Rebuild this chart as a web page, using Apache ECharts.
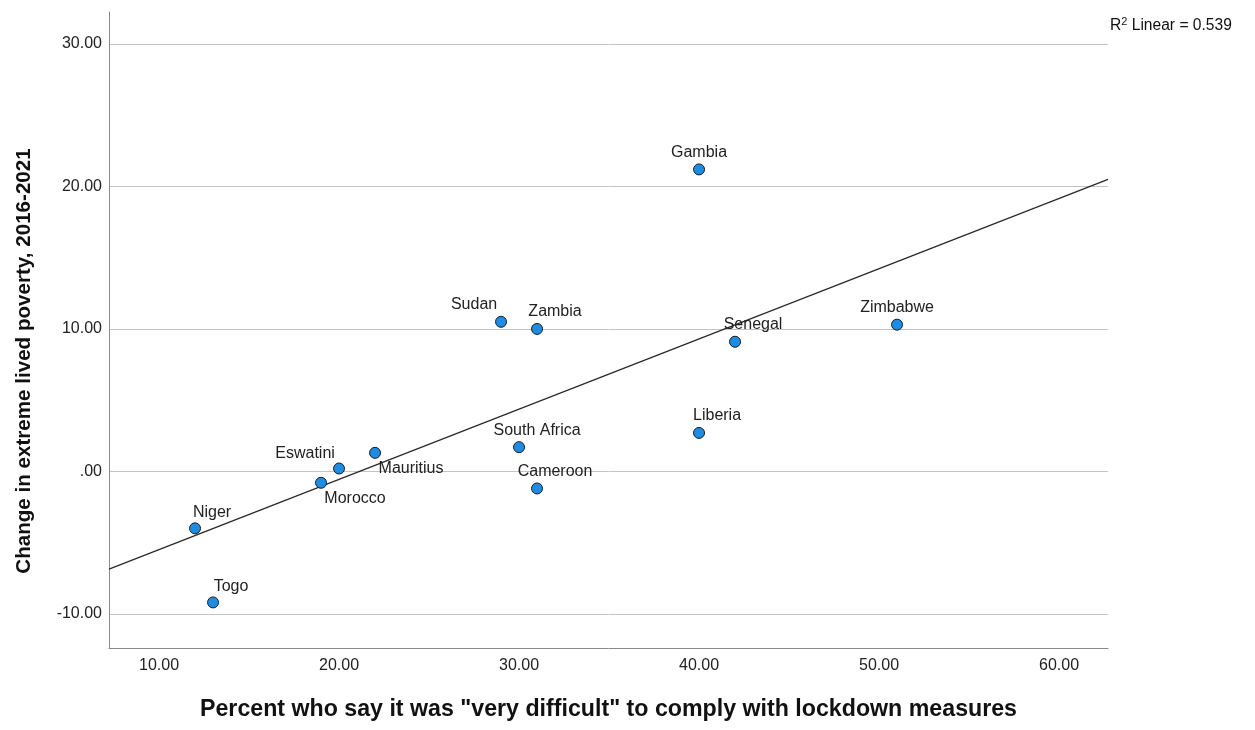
<!DOCTYPE html>
<html>
<head>
<meta charset="utf-8">
<script src="https://cdn.jsdelivr.net/npm/echarts@6/dist/echarts.min.js"></script>
<style>
  html, body { margin: 0; padding: 0; background: #fff; }
  #chart { width: 1255px; height: 730px; }
</style>
</head>
<body>
<div id="chart"></div>
<script>
// country data
const countries = ['Gambia', 'Sudan', 'Zambia', 'Senegal', 'Zimbabwe', 'Liberia', 'South Africa',
                   'Cameroon', 'Mauritius', 'Eswatini', 'Morocco', 'Niger', 'Togo'];
const pctDifficult = [40, 29, 31, 42, 51, 40, 30, 31, 22, 20, 19, 12, 13];
const povertyChange = [21.2, 10.5, 10.0, 9.1, 10.3, 2.7, 1.7, -1.2, 1.3, 0.2, -0.8, -4.0, -9.2];
const xTicks = [10, 20, 30, 40, 50, 60];
const yTicks = [-10, 0, 10, 20, 30];

// where each label sits relative to its dot
const labelOffsets = {
  'Gambia': [0, -17], 'Sudan': [-27, -17], 'Zambia': [18, -17], 'Senegal': [18, -17],
  'Zimbabwe': [0, -17], 'Liberia': [18, -17], 'South Africa': [18, -17], 'Cameroon': [18, -17],
  'Mauritius': [36, 16], 'Eswatini': [-34, -15], 'Morocco': [34, 16], 'Niger': [17, -16], 'Togo': [18, -16]
};

const xMin = 7.22, xMax = 62.72, yMin = -12.4, yMax = 32.25;
const font = 'Liberation Sans, Arial, sans-serif';

// least squares fit line
var n = pctDifficult.length, mx = 0, my = 0;
for (var i = 0; i < n; i++) { mx += pctDifficult[i]; my += povertyChange[i]; }
mx /= n; my /= n;
var sxy = 0, sxx = 0;
for (var i = 0; i < n; i++) {
  sxy += (pctDifficult[i] - mx) * (povertyChange[i] - my);
  sxx += (pctDifficult[i] - mx) * (pctDifficult[i] - mx);
}
var slope = sxy / sxx, icpt = my - slope * mx;

var points = countries.map(function (c, i) {
  return {
    name: c,
    value: [pctDifficult[i], povertyChange[i]],
    label: { offset: labelOffsets[c] }
  };
});

var myChart = echarts.init(document.getElementById('chart'));

var option = {
  animation: false,
  textStyle: { fontFamily: font },
  grid: { left: 109, right: 147, top: 12, bottom: 82, outerBoundsMode: 'none', containLabel: false },
  xAxis: {
    type: 'value',
    min: xMin, max: xMax,
    name: 'Percent who say it was "very difficult" to comply with lockdown measures',
    nameLocation: 'middle',
    nameGap: 50,
    nameTextStyle: { fontSize: 23.2, fontWeight: 'bold', color: '#111' },
    axisLine: { show: true, onZero: false, lineStyle: { color: '#8a8a8a', width: 1 } },
    axisTick: { show: false, customValues: xTicks },
    axisLabel: {
      customValues: xTicks, color: '#222', fontSize: 16, margin: 10,
      formatter: function (v) { return v.toFixed(2); }
    },
    splitLine: { show: false }
  },
  yAxis: {
    type: 'value',
    min: yMin, max: yMax,
    axisLine: { show: true, onZero: false, lineStyle: { color: '#8a8a8a', width: 1 } },
    axisTick: { show: false, customValues: yTicks },
    axisLabel: {
      customValues: yTicks, color: '#222', fontSize: 16, margin: 7,
      formatter: function (v) { return v === 0 ? '.00' : v.toFixed(2); }
    },
    splitLine: { show: true, lineStyle: { color: '#c4c4c4', width: 1 } }
  },
  series: [
    {
      type: 'line',
      data: [[xMin, slope * xMin + icpt], [xMax, slope * xMax + icpt]],
      symbol: 'none',
      lineStyle: { color: '#2a2a2a', width: 1.3 },
      silent: true,
      z: 1
    },
    {
      type: 'scatter',
      data: points,
      symbolSize: 11,
      itemStyle: { color: '#1f8ce3', borderColor: '#1c1c1c', borderWidth: 1, opacity: 1 },
      label: {
        show: true,
        position: 'inside',
        formatter: '{b}',
        color: '#222',
        fontSize: 16
      },
      z: 3
    }
  ],
  graphic: [
    {
      type: 'text',
      x: 24, y: 361,
      rotation: Math.PI / 2,
      style: {
        text: 'Change in extreme lived poverty, 2016-2021',
        font: 'bold 20.6px ' + font,
        fill: '#111',
        textAlign: 'center',
        textVerticalAlign: 'middle'
      }
    },
    {
      type: 'text',
      left: 1110, top: 16,
      style: {
        text: '{t|R}{s|2}{t| Linear = 0.539}',
        rich: {
          t: { fontSize: 15.6, fill: '#111', fontFamily: font, verticalAlign: 'bottom' },
          s: { fontSize: 11, fill: '#111', fontFamily: font, verticalAlign: 'top', padding: [0, 0, 7, 0] }
        }
      }
    }
  ]
};

myChart.setOption(option);
</script>
</body>
</html>
